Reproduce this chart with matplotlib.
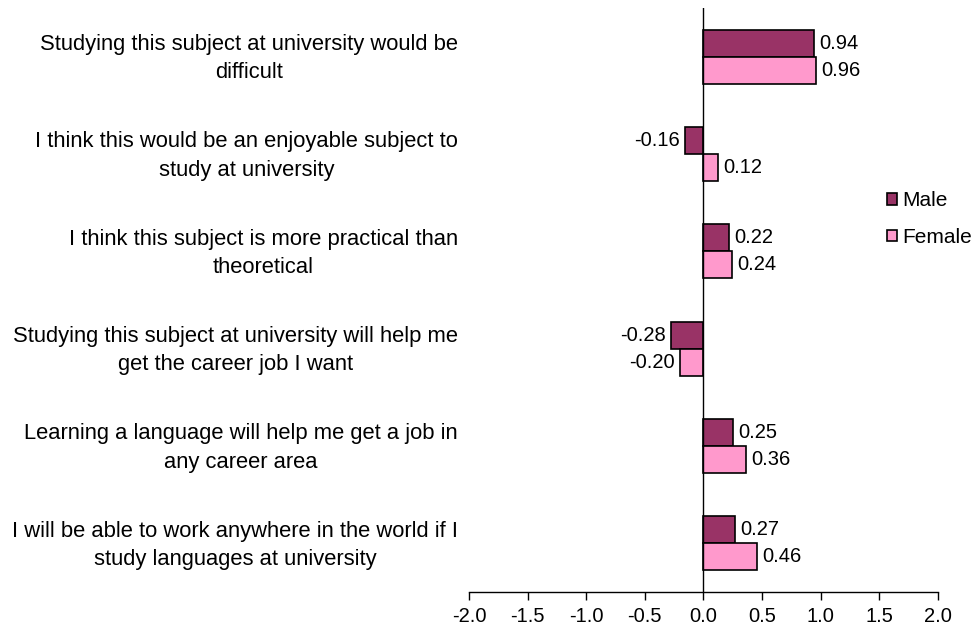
import numpy as np
import matplotlib
matplotlib.use('Agg')
import matplotlib.pyplot as plt
from matplotlib.transforms import ScaledTranslation

plt.rcParams['font.family'] = ['Liberation Sans', 'DejaVu Sans']

statements = [
    'Studying this subject at university would be\ndifficult',
    'I think this would be an enjoyable subject to\nstudy at university',
    'I think this subject is more practical than\ntheoretical',
    'Studying this subject at university will help me\nget the career job I want',
    'Learning a language will help me get a job in\nany career area',
    'I will be able to work anywhere in the world if I\nstudy languages at university',
]
male = [0.94, -0.16, 0.22, -0.28, 0.25, 0.27]
female = [0.96, 0.12, 0.24, -0.20, 0.36, 0.46]
xticks = [-2.0, -1.5, -1.0, -0.5, 0.0, 0.5, 1.0, 1.5, 2.0]

MALE_COLOR = '#993366'
FEMALE_COLOR = '#FF99CC'
FS = 14.5

fig = plt.figure(figsize=(9.78, 6.34), dpi=100)
ax = fig.add_axes([469 / 978, 42 / 634, 469 / 978, 584 / 634])

n = len(statements)
y = np.arange(n)
h = 0.277

ax.barh(y - h / 2, male, height=h, color=MALE_COLOR, edgecolor='black', linewidth=1.2, label='Male')
ax.barh(y + h / 2, female, height=h, color=FEMALE_COLOR, edgecolor='black', linewidth=1.2, label='Female')

# value labels just past the bar ends
for vals, off in ((male, -h / 2), (female, h / 2)):
    for i, v in enumerate(vals):
        pad = 0.045 if v >= 0 else -0.045
        ax.text(v + pad, i + off, '%.2f' % v, ha='left' if v >= 0 else 'right',
                va='center', fontsize=FS)

ax.set_xlim(-2, 2)
ax.set_ylim(n - 0.5, -0.5)
ax.set_xticks(xticks)
ax.set_xticklabels(['%.1f' % t for t in xticks], fontsize=FS)
ax.tick_params(axis='x', direction='out', length=6, width=1, pad=5)

ax.set_yticks(y)
ax.set_yticklabels(statements, fontsize=15.8, multialignment='center', linespacing=1.45)
ax.tick_params(axis='y', length=0, pad=8)
# nudge the two-line labels up a little so they sit centred on the bar pairs
for lbl in ax.get_yticklabels():
    lbl.set_transform(lbl.get_transform() + ScaledTranslation(0, 3 / 72, fig.dpi_scale_trans))

for s in ('left', 'right', 'top'):
    ax.spines[s].set_visible(False)
ax.spines['bottom'].set_linewidth(1)
ax.axvline(0, color='black', lw=1)

fig.legend(loc='upper left', bbox_to_anchor=(879 / 978, 1 - 183 / 634), frameon=False,
           fontsize=FS + 0.5, handlelength=0.45, handleheight=0.45, handletextpad=0.25,
           labelspacing=0.85, borderaxespad=0)

fig.savefig('out.png', dpi=100)
